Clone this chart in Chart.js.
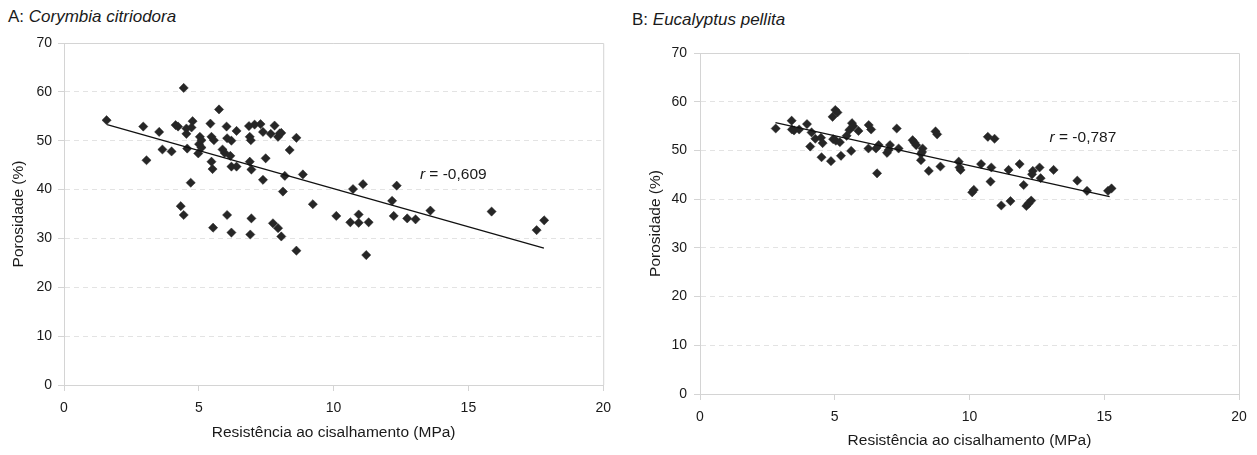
<!DOCTYPE html>
<html>
<head>
<meta charset="utf-8">
<script src="https://cdn.jsdelivr.net/npm/chart.js@4/dist/chart.umd.min.js"></script>
<style>
  html, body { margin: 0; padding: 0; background: #fff; }
  body { width: 1257px; height: 455px; position: relative; overflow: hidden; font-family: "Liberation Sans", Arial, sans-serif; color: #1a1a1a; }
  .panel { position: absolute; top: 0; height: 455px; }
  .title { position: absolute; font-size: 17px; line-height: 19px; white-space: nowrap; color: #1a1a1a; }
</style>
</head>
<body>
<div class="title" style="left:8px; top:7px;">A: <i>Corymbia citriodora</i></div>
<div class="title" style="left:632px; top:10px;">B: <i>Eucalyptus pellita</i></div>
<div class="panel" style="left:0; width:620px;"><canvas id="cA"></canvas></div>
<div class="panel" style="left:628px; width:629px;"><canvas id="cB"></canvas></div>
<script>
// ---- Data ----
const xTicks = [0, 5, 10, 15, 20];
const yTicks = [0, 10, 20, 30, 40, 50, 60, 70];
const xAxisTitle = "Resistência ao cisalhamento (MPa)";
const yAxisTitle = "Porosidade (%)";

// Panel A: Corymbia citriodora
const aX = [1.58, 2.94, 3.06, 3.53, 3.65, 3.99, 4.14, 4.23, 4.33, 4.44, 4.44, 4.54, 4.54, 4.57, 4.70, 4.73, 4.77, 4.98, 5.01, 5.04,
            5.10, 5.10, 5.43, 5.47, 5.56, 5.47, 5.51, 5.53, 5.75, 5.88, 5.96, 6.03, 6.05, 6.05, 6.17, 6.21, 6.21, 6.21, 6.40, 6.40,
            6.86, 6.89, 6.93, 6.89, 6.95, 6.95, 6.91, 7.07, 7.29, 7.38, 7.38, 7.48, 7.67, 7.75, 7.81, 7.94, 7.94, 8.00, 8.06, 8.06,
            8.12, 8.19, 8.37, 8.62, 8.62, 8.86, 9.23, 10.10, 10.62, 10.72, 10.93, 10.93, 11.09, 11.21, 11.30, 12.17, 12.23, 12.34, 12.73, 13.04,
            13.59, 15.86, 17.53, 17.81];
const aY = [54.2, 52.9, 46.0, 51.8, 48.2, 47.8, 53.2, 52.9, 36.6, 34.8, 60.8, 52.5, 51.4, 48.4, 41.4, 52.7, 54.0, 47.4, 49.3, 50.8,
            50.1, 48.6, 53.5, 50.8, 50.1, 45.7, 44.2, 32.2, 56.4, 48.2, 47.5, 52.9, 50.5, 34.8, 46.9, 50.0, 44.7, 31.2, 52.0, 44.7,
            53.0, 50.8, 50.1, 45.7, 44.1, 34.1, 30.8, 53.3, 53.4, 51.8, 42.0, 46.4, 51.4, 33.1, 53.1, 50.8, 32.1, 51.5, 51.6, 30.4,
            39.6, 42.8, 48.1, 50.6, 27.5, 43.1, 37.0, 34.6, 33.3, 40.1, 34.9, 33.2, 41.1, 26.6, 33.3, 37.7, 34.6, 40.8, 34.1, 33.9,
            35.7, 35.5, 31.7, 33.7];
const aTrendX = [1.6, 17.8];
const aTrendY = [53.3, 28.0];
const aLabel = { x: 13.2, y: 43.0, r: "r", rest: " = -0,609" };

// Panel B: Eucalyptus pellita
const bX = [2.81, 3.40, 3.41, 3.49, 3.68, 3.97, 4.09, 4.14, 4.28, 4.49, 4.55, 4.51, 4.86, 4.92, 5.02, 5.10, 4.94, 5.04, 5.19, 5.23,
            5.44, 5.54, 5.64, 5.69, 5.88, 5.61, 6.26, 6.35, 6.25, 6.53, 6.63, 6.57, 6.94, 7.00, 7.05, 7.30, 7.37, 7.89, 7.96, 8.02,
            8.26, 8.24, 8.20, 8.20, 8.49, 8.74, 8.80, 8.92, 9.60, 9.63, 9.67, 10.10, 10.16, 10.43, 10.68, 10.93, 10.81, 10.78, 11.18, 11.45,
            11.52, 11.86, 12.01, 12.11, 12.19, 12.29, 12.35, 12.32, 12.60, 12.64, 13.12, 14.00, 14.36, 15.14, 15.27];
const bY = [54.5, 56.1, 54.3, 54.1, 54.3, 55.4, 50.8, 53.7, 52.4, 52.6, 51.5, 48.6, 47.8, 56.9, 58.3, 57.8, 52.3, 52.0, 51.7, 48.9,
            53.0, 54.2, 55.6, 55.0, 54.0, 49.9, 55.2, 54.3, 50.4, 50.4, 51.1, 45.3, 49.5, 50.1, 51.1, 54.5, 50.4, 52.1, 51.6, 51.1,
            50.4, 49.7, 49.3, 48.0, 45.8, 53.9, 53.3, 46.7, 47.7, 46.5, 46.0, 41.4, 41.9, 47.2, 52.8, 52.4, 46.5, 43.6, 38.7, 46.0,
            39.6, 47.2, 42.9, 38.6, 39.1, 39.7, 45.8, 45.1, 46.5, 44.3, 46.0, 43.8, 41.7, 41.7, 42.2];
const bTrendX = [2.8, 15.2];
const bTrendY = [55.7, 40.5];
const bLabel = { x: 12.97, y: 52.6, r: "r", rest: " = -0,787" };

// ---- Chart building ----
const FONT = '"Liberation Sans", Arial, sans-serif';
const TXT = '#1a1a1a';
const AXIS = '#d4d4d4';
const GRID = '#e3e3e3';
const MARK = '#262626';

function zip(xs, ys) { return xs.map((x, i) => ({ x: x, y: ys[i] })); }

const framePlugin = {
  id: 'frame',
  afterDatasetsDraw(chart) {
    const { ctx, chartArea: a } = chart;
    ctx.save();
    ctx.strokeStyle = AXIS;
    ctx.lineWidth = 1;
    ctx.beginPath();
    ctx.moveTo(a.left, a.top + 0.5);
    ctx.lineTo(a.right + 0.5, a.top + 0.5);
    ctx.lineTo(a.right + 0.5, a.bottom);
    ctx.stroke();
    ctx.restore();
  }
};

const labelPlugin = {
  id: 'rlabel',
  afterDatasetsDraw(chart, args, opts) {
    const lab = opts.label;
    if (!lab) return;
    const { ctx, scales } = chart;
    const px = scales.x.getPixelForValue(lab.x);
    const py = scales.y.getPixelForValue(lab.y);
    ctx.save();
    ctx.fillStyle = TXT;
    ctx.textBaseline = 'middle';
    ctx.textAlign = 'left';
    ctx.font = 'italic 15.5px ' + FONT;
    ctx.fillText(lab.r, px, py);
    const w = ctx.measureText(lab.r).width;
    ctx.font = '15.5px ' + FONT;
    ctx.fillText(lab.rest, px + w, py);
    ctx.restore();
  }
};

function makeChart(id, xs, ys, tx, ty, label, L) {
  const ticksY = yTicks.map(v => ({ value: v }));
  const ticksX = xTicks.map(v => ({ value: v }));
  return new Chart(document.getElementById(id), {
    type: 'scatter',
    data: {
      datasets: [
        {
          data: zip(xs, ys),
          pointStyle: 'rectRot',
          pointRadius: 4.6,
          pointBorderWidth: 0.5,
          backgroundColor: MARK,
          borderColor: MARK,
          order: 2
        },
        {
          data: zip(tx, ty),
          showLine: true,
          pointRadius: 0,
          borderColor: '#111',
          borderWidth: 1.3,
          fill: false,
          order: 1
        }
      ]
    },
    options: {
      responsive: true,
      maintainAspectRatio: false,
      animation: false,
      events: [],
      layout: { padding: { top: L.top, right: L.right, left: 0, bottom: 0 } },
      plugins: {
        legend: { display: false },
        tooltip: { enabled: false },
        title: { display: false },
        rlabel: { label: label }
      },
      scales: {
        x: {
          type: 'linear',
          min: 0, max: 20,
          afterBuildTicks: s => { s.ticks = ticksX.map(t => ({ value: t.value })); },
          afterFit: s => { s.height = L.xh; },
          ticks: { color: TXT, font: { family: FONT, size: 14 }, padding: L.xpad, maxRotation: 0 },
          grid: { display: true, drawOnChartArea: false, drawTicks: true, tickLength: 6, tickColor: AXIS, color: AXIS },
          border: { display: true, color: AXIS, width: 1 },
          title: { display: true, text: xAxisTitle, color: TXT, font: { family: FONT, size: 15.5 }, padding: { top: 0, bottom: L.xtp } }
        },
        y: {
          type: 'linear',
          min: 0, max: 70,
          afterBuildTicks: s => { s.ticks = ticksY.map(t => ({ value: t.value })); },
          afterFit: s => { s.width = L.yw; },
          ticks: { color: TXT, font: { family: FONT, size: 14 }, padding: L.ypad },
          grid: { display: true, drawOnChartArea: true, drawTicks: true, tickLength: 6, tickColor: AXIS, color: GRID },
          border: { display: true, color: AXIS, width: 1, dash: [5, 4] },
          title: { display: true, text: yAxisTitle, color: TXT, font: { family: FONT, size: 15.5 }, padding: { top: L.ytp, bottom: 0 } }
        }
      }
    },
    plugins: [framePlugin, labelPlugin]
  });
}

makeChart('cA', aX, aY, aTrendX, aTrendY, aLabel, { top: 43, right: 16, xh: 70, yw: 64, xpad: 9, xtp: 13, ypad: 6, ytp: 9 });
makeChart('cB', bX, bY, bTrendX, bTrendY, bLabel, { top: 53, right: 18, xh: 61, yw: 72, xpad: 9, xtp: 5, ypad: 7, ytp: 18 });
</script>
</body>
</html>
